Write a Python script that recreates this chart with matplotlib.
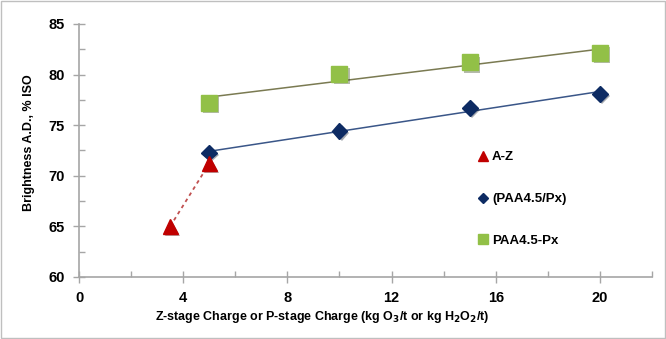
import numpy as np
import matplotlib
matplotlib.use("Agg")
import matplotlib.pyplot as plt
import matplotlib.patheffects as pe
from matplotlib.ticker import MultipleLocator
from matplotlib.lines import Line2D
from matplotlib.patches import Rectangle

plt.rcParams["font.family"] = ["Liberation Sans", "DejaVu Sans"]
plt.rcParams["mathtext.default"] = "bf"

# data
az_x = [3.5, 5]
az_y = [65.0, 71.2]
paa_px_x = [5, 10, 15, 20]
paa_px_y = [72.3, 74.4, 76.7, 78.1]
paa45_x = [5, 10, 15, 20]
paa45_y = [77.2, 80.1, 81.2, 82.1]

labels = ["A-Z", "(PAA4.5/Px)", "PAA4.5-Px"]
red = "#C00000"
navy = "#0D2B63"
green = "#92C047"


def trend(x, y):
	k, b = np.polyfit(x, y, 1)
	xs = np.array([min(x), max(x)])
	return xs, k*xs + b


fig = plt.figure(figsize=(6.66, 3.39), dpi=100)
ax = fig.add_axes([79/666, 62/339, 573/666, 253/339])
fig.patches.append(Rectangle((0.002, 0.003), 0.996, 0.994, transform=fig.transFigure,
	fill=False, edgecolor="#BFBFBF", lw=1.0))

shadow = [pe.SimplePatchShadow(offset=(1.5, -1.5), alpha=0.35), pe.Normal()]

# trend lines
tx, ty = trend(paa45_x, paa45_y)
ax.plot(tx, ty, color="#7A7A52", lw=1.1, zorder=2)
tx, ty = trend(paa_px_x, paa_px_y)
ax.plot(tx, ty, color="#3A5688", lw=1.1, zorder=2)
ax.plot(az_x, az_y, color="#C05050", lw=1.3, ls=(0, (2, 2)), zorder=2)

ax.plot(paa45_x, paa45_y, "s", ms=11.5, color=green, mec=green, ls="none", zorder=3, path_effects=shadow)
ax.plot(paa_px_x, paa_px_y, "D", ms=8, color=navy, mec=navy, ls="none", zorder=3, path_effects=shadow)
ax.plot(az_x, az_y, "^", ms=11, color=red, mec=red, ls="none", zorder=4, path_effects=shadow)

ax.set_xlim(0, 22)
ax.set_ylim(60, 85)
ax.xaxis.set_major_locator(MultipleLocator(4))
ax.xaxis.set_minor_locator(MultipleLocator(2))
ax.yaxis.set_major_locator(MultipleLocator(5))
ax.yaxis.set_minor_locator(MultipleLocator(2.5))
ax.set_xticks([0, 4, 8, 12, 16, 20])

for s in ["top", "right"]:
	ax.spines[s].set_visible(False)
for s in ["left", "bottom"]:
	ax.spines[s].set_color("#A6A6A6")
	ax.spines[s].set_linewidth(1.2)

ax.tick_params(which="major", direction="inout", length=8, width=1, color="#A6A6A6",
	labelsize=10.5, pad=6)
ax.tick_params(which="minor", direction="in", length=4, width=1, color="#A6A6A6")
for t in ax.get_xticklabels() + ax.get_yticklabels():
	t.set_fontweight("bold")

ax.set_ylabel("Brightness A.D., % ISO", fontsize=9, fontweight="bold")
ax.yaxis.set_label_coords(-0.077, (277 - 143) / 253)
ax.set_xlabel("Z-stage Charge or P-stage Charge (kg O$_3$/t or kg H$_2$O$_2$/t)",
	fontsize=9, fontweight="bold")
ax.xaxis.set_label_coords((322 - 79) / 573, -0.128)

handles = [
	Line2D([], [], marker="^", ls="none", color=red, ms=7),
	Line2D([], [], marker="D", ls="none", color=navy, ms=5),
	Line2D([], [], marker="s", ls="none", color=green, ms=7),
]
leg = ax.legend(handles, labels, loc="upper left", bbox_to_anchor=(0.675, 0.545),
	frameon=False, handlelength=0.8, handletextpad=0.3, labelspacing=2.25,
	prop={"weight": "bold", "size": 9.5})

fig.savefig("out.png", dpi=100)
